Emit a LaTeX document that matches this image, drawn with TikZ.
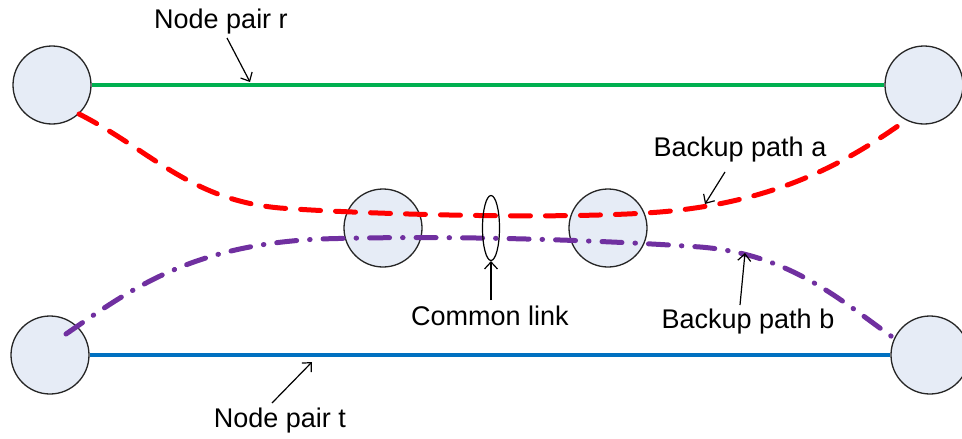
\documentclass[tikz,border=0pt]{standalone}
\usepackage{fontspec}
\setmainfont{Liberation Sans}
\usetikzlibrary{arrows.meta,shapes.geometric}
\definecolor{nodefill}{RGB}{230,236,246}
\definecolor{pgreen}{RGB}{0,176,80}
\definecolor{pblue}{RGB}{0,112,192}
\definecolor{pred}{RGB}{255,0,0}
\definecolor{ppurple}{RGB}{112,48,160}
\tikzset{
  netnode/.style={circle, draw=black!85, line width=1.3pt, fill=nodefill, minimum size=78pt, inner sep=0pt},
  lbl/.style={font=\fontsize{27}{32}\selectfont, inner sep=0pt, text=black},
  pointer/.style={draw=black, line width=1.2pt, -{Straight Barb[length=7pt,width=13pt,line width=1.2pt]}},
  workline/.style={line width=4.5pt},
  redpath/.style={draw=pred, line width=5pt, line cap=round, dash pattern=on 20pt off 15pt},
  purplepath/.style={draw=ppurple, line width=5pt, line cap=round, dash pattern=on 20pt off 13pt on 0.5pt off 13pt},
}
\begin{document}
\begin{tikzpicture}[x=1pt,y=-1pt]
\useasboundingbox (0,0) rectangle (962,439);
% nodes
\node[netnode] (TL) at (52,85) {};
\node[netnode] (TR) at (924,85) {};
\node[netnode] (BL) at (50,355) {};
\node[netnode] (BR) at (930,355) {};
\node[netnode] (M1) at (383,228) {};
\node[netnode] (M2) at (608,228) {};
% working paths
\draw[pgreen, workline] (TL.east) -- (TR.west);
\draw[pblue, workline] (BL.east) -- (BR.west);
% backup path a
\draw[redpath] (TL.-47) .. controls (150,150) and (190,200) .. (280,208)
  .. controls (360,214) and (560,220) .. (660,212)
  .. controls (780,202) and (850,160) .. (TR.-117);
% backup path b
\coordinate (pstart) at (66,334);
\draw[purplepath] (pstart) .. controls (130,290) and (190,245) .. (320,239)
  .. controls (450,235) and (600,240) .. (700,247)
  .. controls (790,254) and (840,300) .. (BR.155);
% common link ellipse
\node[ellipse, draw=black, line width=1.2pt, minimum width=17pt, minimum height=65pt, inner sep=0pt] (CL) at (491,228) {};
% labels
\node[lbl] (lr) at (221,22) {Node pair r};
\node[lbl] (la) at (740,150) {Backup path a};
\node[lbl] (lc) at (490,316) {Common link};
\node[lbl] (lb) at (748,322) {Backup path b};
\node[lbl] (lt) at (280,421) {Node pair t};
% pointer ends
\coordinate (rs) at (227,38);
\coordinate (re) at (250,82);
\coordinate (as) at (725,172);
\coordinate (ae) at (705,204);
\coordinate (cs) at (491,300);
\coordinate (bs) at (740,305);
\coordinate (be) at (745,253);
\coordinate (ts) at (272,403);
\coordinate (te) at (312,362);
\draw[pointer] (rs) -- (re);
\draw[pointer] (as) -- (ae);
\draw[pointer] (cs) -- (CL.south);
\draw[pointer] (bs) -- (be);
\draw[pointer] (ts) -- (te);
\end{tikzpicture}
\end{document}
